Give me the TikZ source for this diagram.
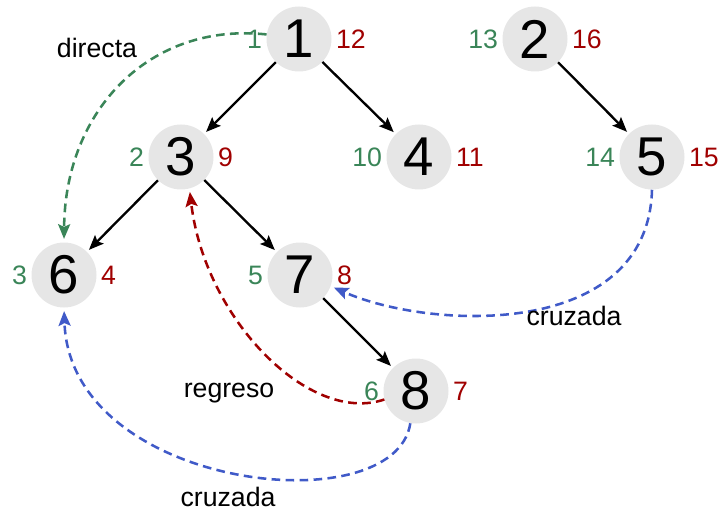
\documentclass[tikz,border=0pt]{standalone}
\usepackage{fontspec}
\setmainfont{Liberation Sans}
\usetikzlibrary{arrows.meta}
\definecolor{vgreen}{RGB}{58,133,88}
\definecolor{vred}{RGB}{160,0,0}
\definecolor{vblue}{RGB}{64,90,200}
\definecolor{vgray}{RGB}{230,230,230}
\begin{document}
\begin{tikzpicture}[x=0.75pt,y=-0.75pt,
  vert/.style={circle,fill=vgray,minimum size=48.75pt,inner sep=0pt,font=\fontsize{41}{41}\selectfont},
  dnum/.style={text=vgreen,font=\fontsize{20}{24}\selectfont,inner sep=0pt,anchor=east,xshift=-3pt},
  fnum/.style={text=vred,font=\fontsize{20}{24}\selectfont,inner sep=0pt,anchor=west,xshift=3pt},
  tree/.style={-{Stealth[length=11pt,width=9pt,inset=2pt]},line width=1.75pt,black,shorten >=2pt},
  nontree/.style={-{Stealth[length=11pt,width=9pt,inset=2pt]},line width=1.9pt,dash pattern=on 6.5pt off 4pt,shorten >=2.5pt},
  elabel/.style={font=\fontsize{20}{24}\selectfont,anchor=base,inner sep=0pt}]
\useasboundingbox (0,0) rectangle (720,513);
% vertices
\node[vert] (v1) at (299,39) {1};
\node[vert] (v2) at (535,39) {2};
\node[vert] (v3) at (181,157) {3};
\node[vert] (v4) at (419,157) {4};
\node[vert] (v5) at (652,157) {5};
\node[vert] (v6) at (64,275) {6};
\node[vert] (v7) at (300,275) {7};
\node[vert] (v8) at (416,391) {8};
% discovery / finish times
\node[dnum] (d1) at (v1.west) {1};   \node[fnum] (f1) at (v1.east) {12};
\node[dnum] (d2) at (v2.west) {13};  \node[fnum] (f2) at (v2.east) {16};
\node[dnum] (d3) at (v3.west) {2};   \node[fnum] (f3) at (v3.east) {9};
\node[dnum] (d4) at (v4.west) {10};  \node[fnum] (f4) at (v4.east) {11};
\node[dnum] (d5) at (v5.west) {14};  \node[fnum] (f5) at (v5.east) {15};
\node[dnum] (d6) at (v6.west) {3};   \node[fnum] (f6) at (v6.east) {4};
\node[dnum] (d7) at (v7.west) {5};   \node[fnum] (f7) at (v7.east) {8};
\node[dnum] (d8) at (v8.west) {6};   \node[fnum] (f8) at (v8.east) {7};
% tree edges
\draw[tree] (v1) -- (v3);
\draw[tree] (v1) -- (v4);
\draw[tree] (v3) -- (v6);
\draw[tree] (v3) -- (v7);
\draw[tree] (v7) -- (v8);
\draw[tree] (v2) -- (v5);
% non-tree edges
\draw[nontree,vgreen] (v1.172) .. controls (150,22) and (65,110) .. (v6.north);
\draw[nontree,vred] (v8.195) .. controls (310,425) and (205,320) .. (v3.285);
\draw[nontree,vblue] (v5.south) .. controls (648,340) and (430,330) .. (v7.340);
\draw[nontree,vblue] (v8.260) .. controls (395,525) and (70,490) .. (v6.south);
% edge labels
\node[elabel] (ldir) at (97,58) {directa};
\node[elabel] (lreg) at (229,397) {regreso};
\node[elabel] (lcr1) at (574,325) {cruzada};
\node[elabel] (lcr2) at (228,506) {cruzada};
\end{tikzpicture}
\end{document}
